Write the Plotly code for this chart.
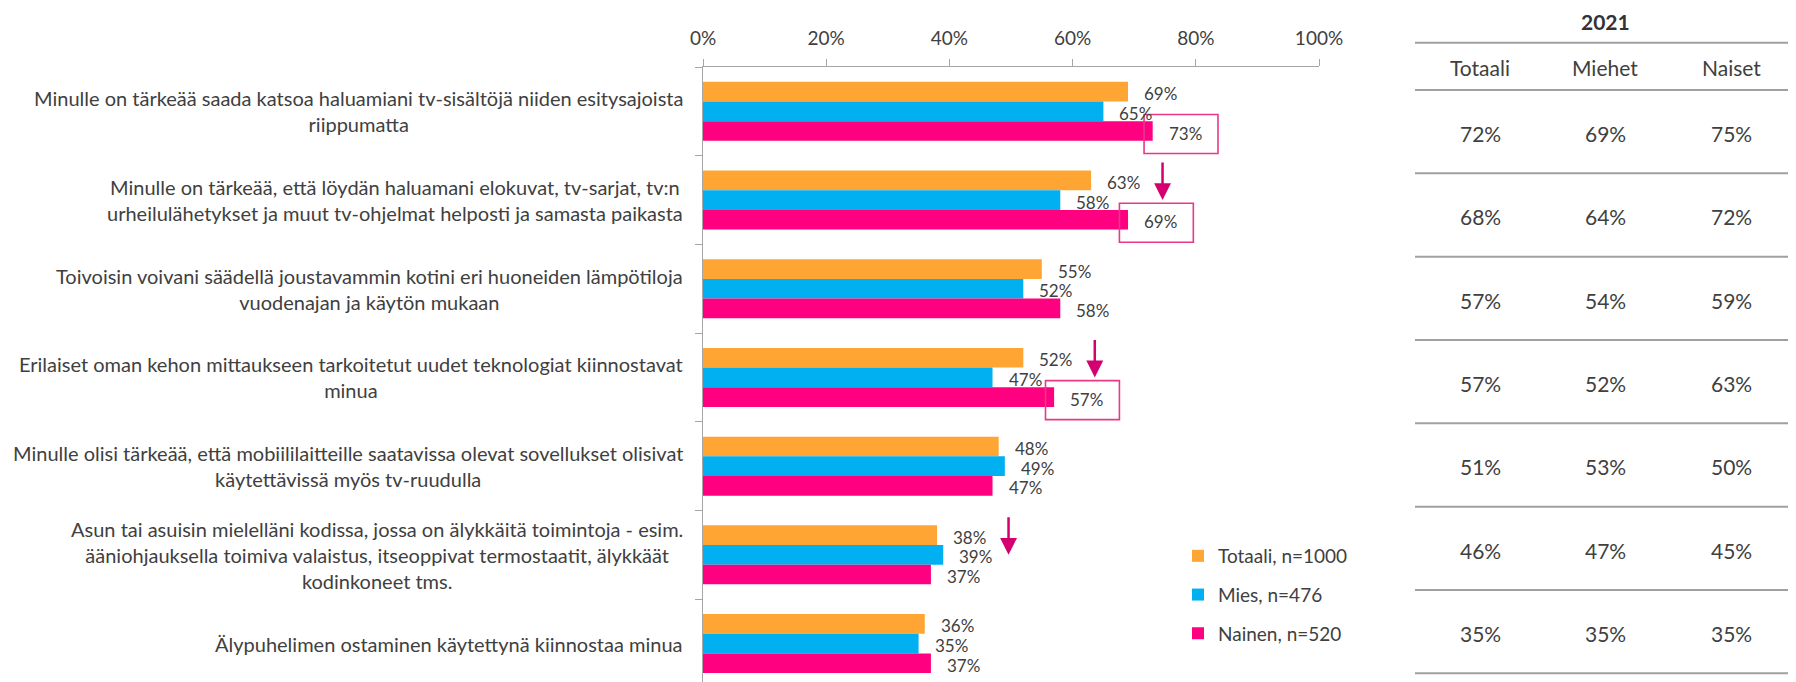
import plotly.graph_objects as go

# ---------------- data ----------------
categories = [
    "Minulle on tärkeää saada katsoa haluamiani tv-sisältöjä niiden esitysajoista<br>riippumatta",
    "Minulle on tärkeää, että löydän haluamani elokuvat, tv-sarjat, tv:n<br>urheilulähetykset ja muut tv-ohjelmat helposti ja samasta paikasta",
    "Toivoisin voivani säädellä joustavammin kotini eri huoneiden lämpötiloja<br>vuodenajan ja käytön mukaan",
    "Erilaiset oman kehon mittaukseen tarkoitetut uudet teknologiat kiinnostavat<br>minua",
    "Minulle olisi tärkeää, että mobiililaitteille saatavissa olevat sovellukset olisivat<br>käytettävissä myös tv-ruudulla",
    "Asun tai asuisin mielelläni kodissa, jossa on älykkäitä toimintoja - esim.<br>ääniohjauksella toimiva valaistus, itseoppivat termostaatit, älykkäät<br>kodinkoneet tms.",
    "Älypuhelimen ostaminen käytettynä kiinnostaa minua",
]
series_names = ["Totaali, n=1000", "Mies, n=476", "Nainen, n=520"]
totaali = [69, 63, 55, 52, 48, 38, 36]
mies = [65, 58, 52, 47, 49, 39, 35]
nainen = [73, 69, 58, 57, 47, 37, 37]

# 2021 comparison table
table_year = "2021"
table_headers = ["Totaali", "Miehet", "Naiset"]
t2021_totaali = [72, 68, 57, 57, 51, 46, 35]
t2021_miehet = [69, 64, 54, 52, 53, 47, 35]
t2021_naiset = [75, 72, 59, 63, 50, 45, 35]

# highlighted (boxed) Nainen values and down-arrows next to Totaali
boxed_rows = [0, 1, 3]
arrow_rows = [1, 3, 5]

x_ticks = [0, 20, 40, 60, 80, 100]
x_ticktext = [f"{t}%" for t in x_ticks]

# ---------------- style ----------------
OFF = 8  # page body margin
W, H = 1796 - OFF, 682 - OFF
PL, PR, PT = 703 - OFF, 1319 - OFF, 67 - OFF
PB = H
FONT = "Lato, 'Open Sans', sans-serif"
TXT = "#404040"
AX = "#A6A6A6"
colors = ["#FFA533", "#00B0F0", "#FF0080"]
BOX_C = "#E8388A"
ARROW_C = "#D4006F"

band_px = 88.7
y_bottom = -0.5 + (PB - PT) / band_px


def px_x(page_px):
    return (page_px - OFF - PL) / (PR - PL)


def px_y(page_py):
    return 1 - (page_py - OFF - PT) / (PB - PT)


values = [totaali, mies, nainen]
fig = go.Figure()
for name, vals, col in zip(series_names, values, colors):
    fig.add_trace(go.Bar(
        y=categories, x=vals, orientation="h", name=name,
        marker=dict(color=col, line=dict(width=0)),
        legendgroup=name, hoverinfo="x+name",
    ))

bargap = 0.335
bar_w = (1 - bargap) / 3
offsets = [-bar_w, 0, bar_w]

ann = []
shapes = []
# value labels
for s, vals in enumerate(values):
    for i, v in enumerate(vals):
        ann.append(dict(x=v, y=i + offsets[s], xref="x", yref="y", text=f"{v:.0f}%",
                        showarrow=False, xanchor="left", yanchor="middle", xshift=14, yshift=-2,
                        font=dict(size=17, color=TXT, family=FONT)))
# category labels
for i, c in enumerate(categories):
    ann.append(dict(x=px_x(685), y=i, xref="paper", yref="y", text=c, showarrow=False,
                    xanchor="right", yanchor="middle", align="center",
                    font=dict(size=20, color=TXT, family=FONT)))
# boxes
for i in boxed_rows:
    v = nainen[i]
    yc = i + bar_w + 0.034
    shapes.append(dict(type="rect", xref="x", yref="y", x0=v - 1.4, x1=v + 10.6,
                       y0=yc - 0.22, y1=yc + 0.22, line=dict(color=BOX_C, width=1.6),
                       fillcolor="rgba(0,0,0,0)", layer="above"))
# arrows
for i in arrow_rows:
    xa = totaali[i] + 11.6
    ann.append(dict(x=xa, y=i + 0.0, ax=xa, ay=i - 0.44, xref="x", yref="y", axref="x", ayref="y",
                    text="", showarrow=True, arrowhead=2, arrowsize=1.35, arrowwidth=2.5,
                    arrowcolor=ARROW_C))

# table
col_x = [1480, 1605, 1731]
ann.append(dict(x=px_x(1605), y=px_y(22), xref="paper", yref="paper", text="<b>" + table_year + "</b>",
                showarrow=False, xanchor="center", yanchor="middle",
                font=dict(size=21, color="#333333", family=FONT)))
for cx, hdr in zip(col_x, table_headers):
    ann.append(dict(x=px_x(cx), y=px_y(68), xref="paper", yref="paper", text=hdr,
                    showarrow=False, xanchor="center", yanchor="middle",
                    font=dict(size=21, color=TXT, family=FONT)))
row_h = 83.33
first_line = 90
line_ys = [42.7, first_line] + [first_line + row_h * (k + 1) for k in range(len(categories))]
for ly in line_ys:
    shapes.append(dict(type="line", xref="paper", yref="paper", x0=px_x(1415), x1=px_x(1800),
                       y0=px_y(ly), y1=px_y(ly), line=dict(color="#A0A0A0", width=2)))
for cx, col in zip(col_x, [t2021_totaali, t2021_miehet, t2021_naiset]):
    for k, v in enumerate(col):
        cy = first_line + row_h * (k + 0.5) + 2
        ann.append(dict(x=px_x(cx), y=px_y(cy), xref="paper", yref="paper", text=f"{v}%",
                        showarrow=False, xanchor="center", yanchor="middle",
                        font=dict(size=21, color=TXT, family=FONT)))

fig.update_layout(
    width=W, height=H,
    margin=dict(l=PL, r=W - PR, t=PT, b=0, pad=0),
    paper_bgcolor="white", plot_bgcolor="white",
    barmode="group", bargap=bargap, bargroupgap=0,
    font=dict(family=FONT, color=TXT, size=19),
    showlegend=True,
    legend=dict(x=px_x(1178), y=px_y(537), xanchor="left", yanchor="top",
                font=dict(size=19, color=TXT, family=FONT), tracegroupgap=11,
                bgcolor="rgba(0,0,0,0)", traceorder="grouped"),
    annotations=ann, shapes=shapes,
    xaxis=dict(range=[0, 100], side="top", tickmode="array", tickvals=x_ticks, ticktext=x_ticktext,
               showline=True, linecolor=AX, linewidth=1.3, ticks="outside", ticklen=7,
               tickcolor=AX, tickwidth=1.3, showgrid=False, zeroline=False,
               tickfont=dict(size=19, color=TXT, family=FONT), ticklabelstandoff=6,
               fixedrange=True),
    yaxis=dict(range=[y_bottom, -0.5], type="category", showline=True, linecolor=AX,
               linewidth=1.3, ticks="outside", tickson="boundaries", ticklen=7,
               tickcolor=AX, tickwidth=1.3, showticklabels=False, showgrid=False,
               zeroline=False, fixedrange=True),
)

fig.write_html("out.html")
